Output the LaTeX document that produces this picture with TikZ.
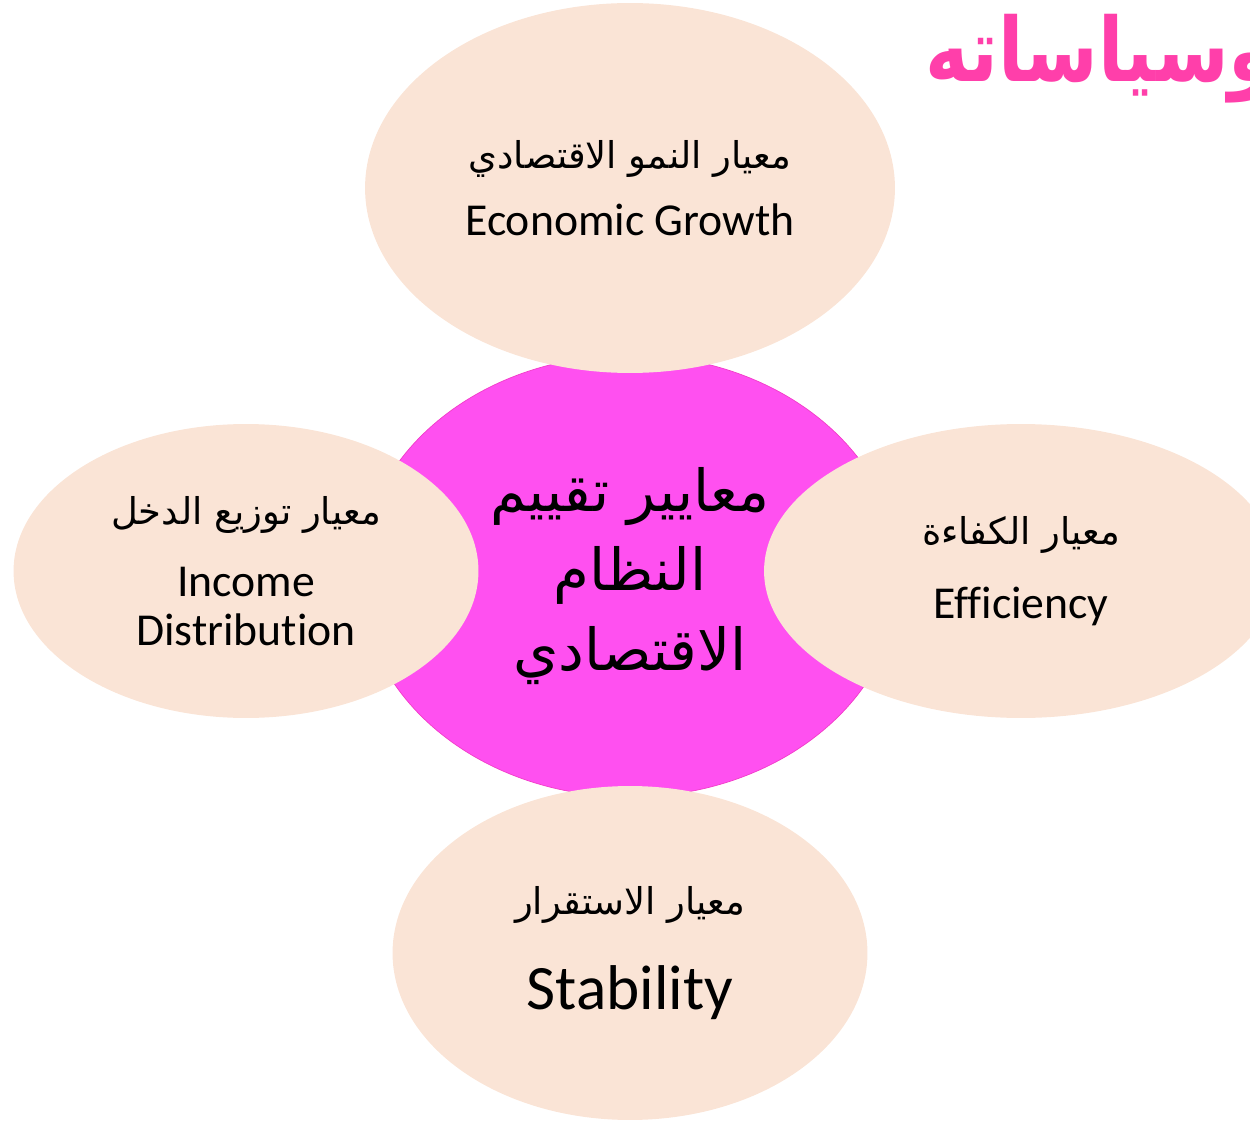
\documentclass[tikz,border=0pt]{standalone}
\usepackage{fontspec}
\setmainfont{Carlito}[Ligatures=NoCommon]
\newfontfamily\arabicfont[Script=Arabic]{DejaVu Sans}
\TeXXeTstate=1
\usetikzlibrary{shapes.geometric}
\definecolor{peach}{HTML}{FAE4D6}
\definecolor{hubpink}{HTML}{FF50F0}
\definecolor{rimpink}{HTML}{F23CC8}
\definecolor{titlepink}{HTML}{FF3FAA}
\newcommand{\artext}[1]{{\arabicfont\fontsize{21}{38}\selectfont\beginR #1\endR}}
\tikzset{
  petal/.style={ellipse, fill=peach, inner sep=0pt, align=center,
    font=\fontsize{26}{38}\selectfont},
  hub/.style={ellipse, fill=hubpink, draw=rimpink, inner sep=0pt, align=center,
    font=\arabicfont\fontsize{33}{45}\selectfont},
}
\begin{document}
\begin{tikzpicture}[x=0.02cm, y=-0.02cm]
    \useasboundingbox (0,0) rectangle (1250,1121);
    % centre
    \node[hub, minimum width=10.8cm, minimum height=8.84cm] (crit) at (630,576)
        {\beginR معايير تقييم\endR\\ \beginR النظام\endR\\ \beginR الاقتصادي\endR};
    % four criteria
    \node[petal, minimum width=10.6cm, minimum height=7.4cm] (growth) at (630,188)
        {\artext{معيار النمو الاقتصادي}\\ Economic Growth};
    \node[petal, minimum width=9.3cm, minimum height=5.88cm] (income) at (246,571)
        {\artext{معيار توزيع الدخل}\\[3pt] Income\\[-10pt] Distribution};
    \node[petal, minimum width=10.28cm, minimum height=5.88cm] (efficiency) at (1021,571)
        {\artext{معيار الكفاءة}\\[4pt] Efficiency};
    \node[petal, minimum width=9.5cm, minimum height=6.68cm] (stability) at (630,953)
        {\artext{معيار الاستقرار}\\[16pt] {\fontsize{36}{40}\selectfont Stability}};
    % title, cut by the page edge
    \node[anchor=base east, text=titlepink, inner sep=0pt,
        font=\arabicfont\bfseries\fontsize{42}{50}\selectfont] (title) at (1275,82)
        {\scalebox{1}[1.2]{\beginR وسياساته\endR}};
\end{tikzpicture}
\end{document}
